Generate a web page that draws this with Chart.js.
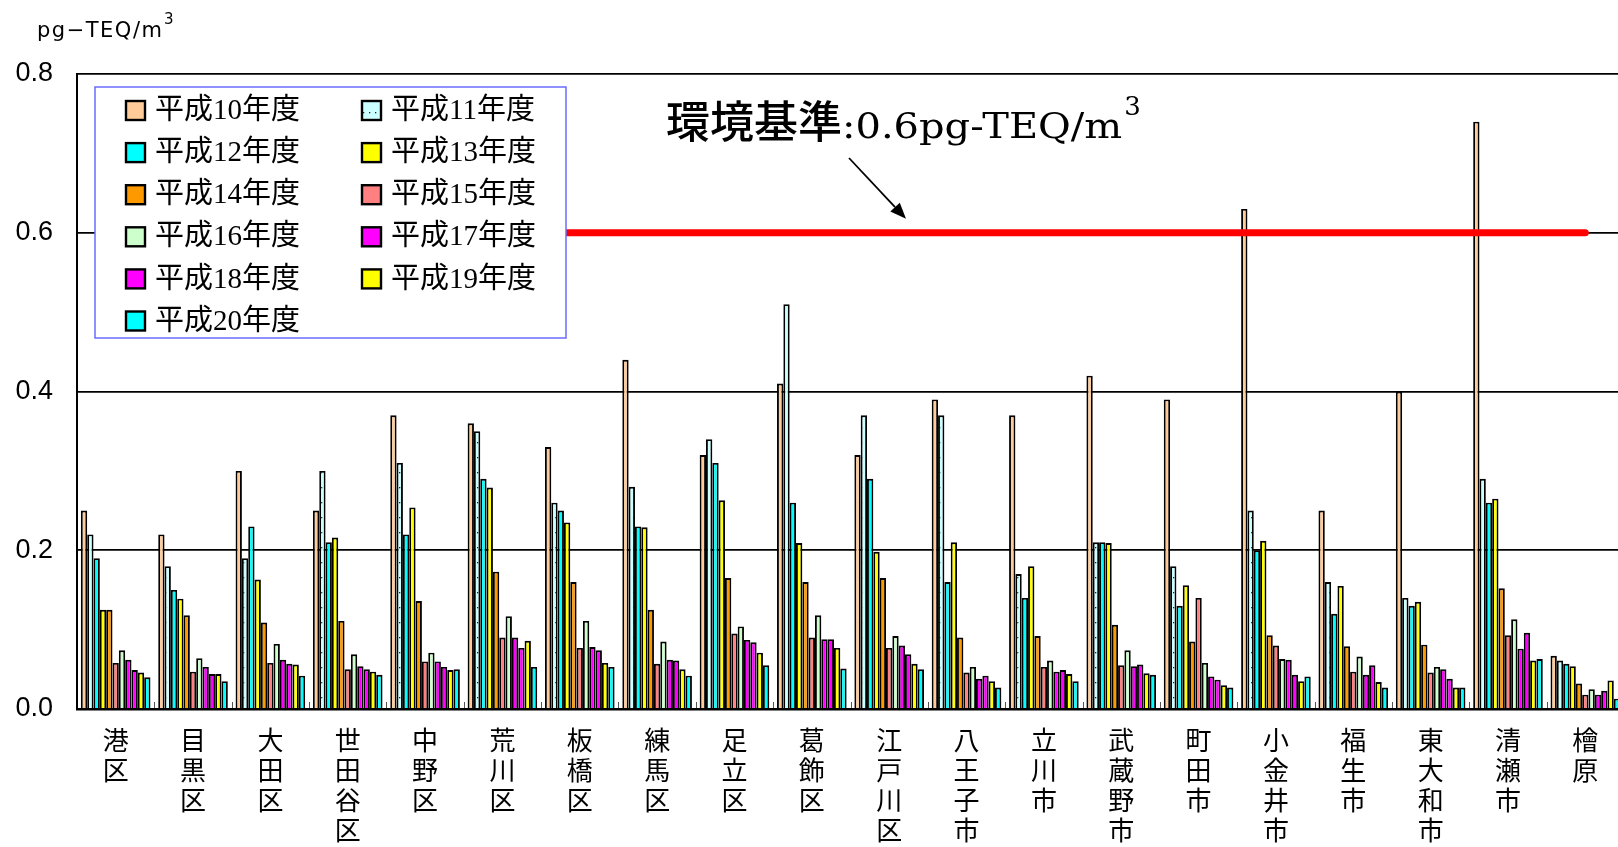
<!DOCTYPE html>
<html>
<head>
<meta charset="utf-8">
<script src="https://cdn.jsdelivr.net/npm/chart.js@4.4.1/dist/chart.umd.min.js"></script>
<style>
  html, body { margin: 0; padding: 0; background: #fff; overflow: hidden; }
  #wrap { position: absolute; left: 0; top: 0; width: 1640px; height: 847px; }
</style>
</head>
<body>
<div id="wrap"><canvas id="chart" width="1640" height="847"></canvas></div>
<script>
// 測定地点
const municipalities = ['港区', '目黒区', '大田区', '世田谷区', '中野区', '荒川区', '板橋区', '練馬区', '足立区', '葛飾区',
  '江戸川区', '八王子市', '立川市', '武蔵野市', '町田市', '小金井市', '福生市', '東大和市', '清瀬市', '檜原'];

// 年度名
const fiscalYears = ['平成10年度', '平成11年度', '平成12年度', '平成13年度', '平成14年度', '平成15年度',
  '平成16年度', '平成17年度', '平成18年度', '平成19年度', '平成20年度'];

// 年平均値 (pg-TEQ/m3)
const h10 = [0.25, 0.22, 0.30, 0.25, 0.37, 0.36, 0.33, 0.44, 0.32, 0.41, 0.32, 0.39, 0.37, 0.42, 0.39, 0.63, 0.25, 0.40, 0.74, 0.067];
const h11 = [0.22, 0.18, 0.19, 0.30, 0.31, 0.35, 0.26, 0.28, 0.34, 0.51, 0.37, 0.37, 0.17, 0.21, 0.18, 0.25, 0.16, 0.14, 0.29, 0.061];
const h12 = [0.19, 0.15, 0.23, 0.21, 0.22, 0.29, 0.25, 0.23, 0.31, 0.26, 0.29, 0.16, 0.14, 0.21, 0.13, 0.20, 0.12, 0.13, 0.26, 0.057];
const h13 = [0.125, 0.139, 0.163, 0.216, 0.254, 0.279, 0.235, 0.229, 0.263, 0.209, 0.198, 0.21, 0.18, 0.209, 0.156, 0.212, 0.155, 0.135, 0.265, 0.054];
const h14 = [0.125, 0.118, 0.109, 0.111, 0.136, 0.173, 0.160, 0.125, 0.165, 0.160, 0.165, 0.090, 0.092, 0.106, 0.085, 0.093, 0.079, 0.081, 0.152, 0.032];
const h15 = [0.058, 0.047, 0.058, 0.050, 0.060, 0.090, 0.077, 0.057, 0.095, 0.090, 0.077, 0.046, 0.053, 0.055, 0.140, 0.080, 0.047, 0.046, 0.093, 0.018];
const h16 = [0.074, 0.064, 0.082, 0.069, 0.071, 0.117, 0.111, 0.085, 0.104, 0.118, 0.092, 0.053, 0.061, 0.074, 0.058, 0.063, 0.066, 0.053, 0.113, 0.025];
const h17 = [0.062, 0.053, 0.062, 0.054, 0.060, 0.090, 0.078, 0.062, 0.087, 0.088, 0.080, 0.038, 0.047, 0.054, 0.041, 0.062, 0.043, 0.050, 0.076, 0.018];
const h18 = [0.049, 0.044, 0.057, 0.050, 0.053, 0.077, 0.074, 0.061, 0.084, 0.088, 0.069, 0.042, 0.049, 0.056, 0.037, 0.043, 0.055, 0.038, 0.096, 0.023];
const h19 = [0.046, 0.044, 0.056, 0.047, 0.049, 0.086, 0.058, 0.050, 0.071, 0.077, 0.057, 0.035, 0.044, 0.045, 0.030, 0.035, 0.034, 0.027, 0.061, 0.036];
const h20 = [0.040, 0.035, 0.042, 0.043, 0.050, 0.053, 0.053, 0.042, 0.055, 0.051, 0.050, 0.027, 0.035, 0.043, 0.027, 0.041, 0.027, 0.027, 0.063, 0.013];

// 環境基準
const STANDARD = 0.6;

// 縦軸目盛
const yTicks = [0, 0.2, 0.4, 0.6, 0.8];

const seriesValues = [h10, h11, h12, h13, h14, h15, h16, h17, h18, h19, h20];

// 平成11年度は点描の塗り
function dottedFill() {
  const c = document.createElement('canvas');
  c.width = 6; c.height = 15;
  const g = c.getContext('2d');
  g.fillStyle = '#CCFFFF';
  g.fillRect(0, 0, 6, 15);
  g.fillStyle = '#222';
  g.fillRect(3, 7, 1.3, 1.3);
  return g.createPattern(c, 'repeat');
}

const fills = ['#FFCC99', dottedFill(), '#00FFFF', '#FFFF00', '#FF9900', '#FF8080',
  '#CCFFCC', '#FF00FF', '#FF00FF', '#FFFF00', '#00FFFF'];

const barSets = fiscalYears.map((name, i) => ({
  type: 'bar',
  label: name,
  data: seriesValues[i],
  backgroundColor: fills[i],
  borderColor: '#000',
  borderWidth: 1.9,
  categoryPercentage: 0.9,
  barPercentage: 1.0,
  order: 2
}));

const standardLine = {
  type: 'line',
  label: '環境基準',
  data: [{ x: municipalities[0], y: STANDARD }, { x: municipalities[municipalities.length - 1], y: STANDARD }],
  borderColor: '#FF0000',
  borderWidth: 7,
  borderCapStyle: 'round',
  pointRadius: 0,
  fill: false,
  order: 0
};

// 区分境界の内向き目盛
const innerTicks = {
  id: 'innerTicks',
  afterDatasetsDraw(chart) {
    const { ctx, chartArea } = chart;
    const w = (chartArea.right - chartArea.left) / municipalities.length;
    ctx.save();
    ctx.strokeStyle = '#555';
    ctx.lineWidth = 1;
    for (let i = 1; i <= municipalities.length; i++) {
      const px = Math.round(chartArea.left + i * w) + 0.5;
      ctx.beginPath();
      ctx.moveTo(px, chartArea.bottom - 1);
      ctx.lineTo(px, chartArea.bottom - 7);
      ctx.stroke();
    }
    ctx.restore();
  }
};

// 凡例パネル
const legendPanel = {
  id: 'legendPanel',
  afterDatasetsDraw(chart) {
    const ctx = chart.ctx;
    const bars = chart.data.datasets.filter(d => d.type === 'bar');
    const box = { x: 95, y: 87, w: 471, h: 251 };
    ctx.save();
    ctx.fillStyle = '#fff';
    ctx.fillRect(box.x, box.y, box.w, box.h);
    ctx.strokeStyle = '#6B6BFF';
    ctx.lineWidth = 1.5;
    ctx.strokeRect(box.x, box.y, box.w, box.h);
    ctx.font = '29px "Liberation Serif", "Noto Sans CJK JP"';
    ctx.textBaseline = 'middle';
    ctx.textAlign = 'left';
    bars.forEach((d, i) => {
      const col = i % 2;
      const row = Math.floor(i / 2);
      const sx = col ? 362 : 126;
      const cy = 110.5 + row * 42.1;
      ctx.fillStyle = d.backgroundColor;
      ctx.fillRect(sx, cy - 9.5, 19, 19);
      ctx.strokeStyle = '#000';
      ctx.lineWidth = 2.4;
      ctx.strokeRect(sx, cy - 9.5, 19, 19);
      ctx.fillStyle = '#000';
      ctx.fillText(d.label, sx + 29, cy + 1);
    });
    ctx.restore();
  }
};

// 単位表示と環境基準の注記
const notes = {
  id: 'notes',
  afterDraw(chart) {
    const ctx = chart.ctx;
    const y = chart.scales.y;
    ctx.save();
    ctx.fillStyle = '#000';
    ctx.textAlign = 'left';
    ctx.textBaseline = 'alphabetic';

    // 縦軸の単位
    ctx.font = '21px "DejaVu Sans"';
    ctx.letterSpacing = '1.5px';
    ctx.fillText('pg\u2212TEQ/m', 37, 37);
    ctx.letterSpacing = '0px';
    ctx.font = '15px "DejaVu Sans"';
    ctx.fillText('3', 164, 24);

    // 環境基準の文字
    let tx = 666;
    const base = 138;
    ctx.font = '500 44px "Noto Sans CJK JP"';
    ctx.fillText('環境基準', tx, base);
    tx += ctx.measureText('環境基準').width;
    ctx.font = '36px "DejaVu Serif"';
    const rest = ':' + STANDARD.toFixed(1) + 'pg-TEQ/m';
    ctx.save();
    ctx.translate(tx, base);
    ctx.scale(1.11, 1);
    ctx.fillText(rest, 0, 0);
    ctx.restore();
    tx += ctx.measureText(rest).width * 1.11;
    ctx.font = '26px "DejaVu Serif"';
    ctx.fillText('3', tx + 2, 115);

    // 矢印
    const tipX = 906, tipY = y.getPixelForValue(STANDARD) - 14;
    const sx = 849, sy = 158;
    const ang = Math.atan2(tipY - sy, tipX - sx);
    const len = 16, half = 6.5;
    const bx = tipX - len * Math.cos(ang), by = tipY - len * Math.sin(ang);
    ctx.strokeStyle = '#000';
    ctx.lineWidth = 1.8;
    ctx.beginPath();
    ctx.moveTo(sx, sy);
    ctx.lineTo(bx, by);
    ctx.stroke();
    ctx.beginPath();
    ctx.moveTo(tipX, tipY);
    ctx.lineTo(bx + half * Math.sin(ang), by - half * Math.cos(ang));
    ctx.lineTo(bx - half * Math.sin(ang), by + half * Math.cos(ang));
    ctx.closePath();
    ctx.fill();
    ctx.restore();
  }
};

new Chart(document.getElementById('chart'), {
  type: 'bar',
  data: {
    labels: municipalities,
    datasets: [standardLine, ...barSets]
  },
  options: {
    responsive: false,
    animation: false,
    devicePixelRatio: 1,
    layout: { padding: { left: 0, top: 74, right: 16, bottom: 0 } },
    plugins: { legend: { display: false }, tooltip: { enabled: false } },
    scales: {
      x: {
        grid: { display: false, drawTicks: false },
        border: { display: true, color: '#000', width: 2.5 },
        ticks: {
          padding: 16,
          color: '#000',
          autoSkip: false,
          maxRotation: 0,
          font: { family: '"Noto Sans CJK JP"', size: 26, lineHeight: 1.154 },
          callback: function (v) { return this.getLabelForValue(v).split(''); }
        },
        afterFit: s => { s.height = 138; }
      },
      y: {
        min: 0,
        max: 0.8,
        grid: { color: '#000', lineWidth: 1.8, drawTicks: false },
        border: { display: true, color: '#000', width: 2 },
        ticks: {
          padding: 24,
          color: '#000',
          font: { family: '"Liberation Sans"', size: 27 },
          callback: v => v.toFixed(1)
        },
        afterBuildTicks: s => { s.ticks = yTicks.map(v => ({ value: v })); },
        afterFit: s => { s.width = 77; }
      }
    }
  },
  plugins: [innerTicks, legendPanel, notes]
});
</script>
</body>
</html>
